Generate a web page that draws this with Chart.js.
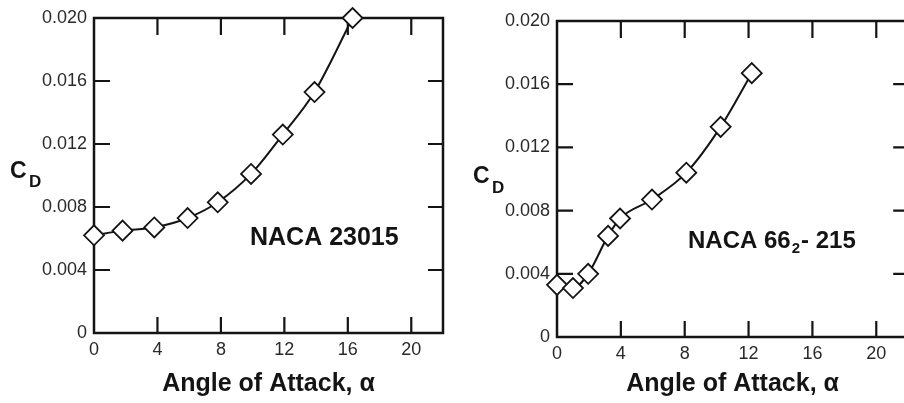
<!DOCTYPE html>
<html><head><meta charset="utf-8">
<script src="https://cdn.jsdelivr.net/npm/chart.js@4.4.0/dist/chart.umd.min.js"></script>
<style>
html,body{margin:0;padding:0;background:#fff;overflow:hidden;width:904px;height:403px}
#c1{position:absolute;left:0;top:0}
#c2{position:absolute;left:460px;top:0}
</style></head><body>
<canvas id="c1" width="460" height="403"></canvas>
<canvas id="c2" width="460" height="403"></canvas>
<script>
// ---- data ----
const xTickValues = [0, 4, 8, 12, 16, 20];
const xTickLabels = ['0', '4', '8', '12', '16', '20'];
const yTickValues = [0, 0.004, 0.008, 0.012, 0.016, 0.020];
const yTickLabels = ['0', '0.004', '0.008', '0.012', '0.016', '0.020'];

const alphaLeft = [0, 1.8, 3.8, 5.9, 7.8, 9.9, 11.9, 13.9, 16.3];
const cdLeft    = [0.0062, 0.0065, 0.0067, 0.0073, 0.0083, 0.0101, 0.0126, 0.0153, 0.0200];

const alphaRight = [0, 1.0, 1.95, 3.2, 3.95, 5.95, 8.1, 10.25, 12.2];
const cdRight    = [0.0033, 0.0031, 0.0040, 0.0064, 0.0075, 0.0087, 0.0104, 0.0133, 0.0167];

const xAxisTitle = 'Angle of Attack, \u03B1';
const nameLeft = 'NACA 23015';
const nameRightMain = 'NACA 66';
const nameRightSub = '2';
const nameRightTail = '- 215';

const INK = '#141414';
const LABEL = '#2a2a2a';

const framePlugin = {
  id: 'frame',
  beforeDatasetsDraw(chart, args, o) {
    const {ctx, chartArea: a, scales: {x, y}} = chart;
    ctx.save();
    ctx.strokeStyle = INK;
    ctx.lineWidth = 2.5;
    ctx.strokeRect(a.left, a.top, a.right - a.left, a.bottom - a.top);
    ctx.lineWidth = 2.2;
    ctx.beginPath();
    xTickValues.filter(v => v > 0).forEach(v => {
      const px = x.getPixelForValue(v);
      ctx.moveTo(px, a.bottom); ctx.lineTo(px, a.bottom - 16);
      ctx.moveTo(px, a.top); ctx.lineTo(px, a.top + 17);
    });
    yTickValues.filter(v => v > 0 && v < 0.02).forEach(v => {
      const py = y.getPixelForValue(v);
      ctx.moveTo(a.left, py); ctx.lineTo(a.left + 16, py);
      ctx.moveTo(a.right, py); ctx.lineTo(a.right - 15, py);
    });
    ctx.stroke();
    ctx.restore();
  }
};

const textPlugin = {
  id: 'texts',
  afterDraw(chart, args, o) {
    const ctx = chart.ctx;
    ctx.save();
    ctx.fillStyle = INK;
    ctx.textBaseline = 'alphabetic';
    ctx.textAlign = 'left';
    // C_D
    ctx.font = 'bold 23px "Liberation Sans", Arial, sans-serif';
    ctx.fillText('C', o.cx, o.cy);
    ctx.font = 'bold 17px "Liberation Sans", Arial, sans-serif';
    ctx.fillText('D', o.dx, o.dy);
    // name
    ctx.font = 'bold 25px "Liberation Sans", Arial, sans-serif';
    if (o.sub) {
      ctx.font = 'bold 24px "Liberation Sans", Arial, sans-serif';
      ctx.fillText(o.main, o.nx, o.ny);
      let w = ctx.measureText(o.main).width;
      ctx.font = 'bold 15px "Liberation Sans", Arial, sans-serif';
      ctx.fillText(o.sub, o.nx + w + 1, o.ny + 5);
      const w2 = ctx.measureText(o.sub).width;
      ctx.font = 'bold 24px "Liberation Sans", Arial, sans-serif';
      ctx.fillText(o.tail, o.nx + w + w2 + 2, o.ny);
    } else {
      ctx.fillText(o.main, o.nx, o.ny);
    }
    ctx.restore();
  }
};

function makeChart(id, xs, ys, yAxisWidth, padTop, padRight, xAxisHeight, textOpts) {
  const pts = xs.map((v, i) => ({x: v, y: ys[i]}));
  return new Chart(document.getElementById(id), {
    type: 'line',
    data: { datasets: [{
      data: pts,
      borderColor: INK,
      borderWidth: 2,
      pointStyle: 'rectRot',
      pointRadius: 10,
      pointBackgroundColor: '#ffffff',
      pointBorderColor: INK,
      pointBorderWidth: 1.8,
      cubicInterpolationMode: 'monotone',
      clip: false
    }]},
    options: {
      responsive: false,
      animation: false,
      events: [],
      layout: { padding: { top: padTop, right: padRight, left: 0, bottom: 0 } },
      plugins: { legend: { display: false }, tooltip: { enabled: false }, texts: textOpts },
      scales: {
        x: {
          type: 'linear', min: 0, max: 22,
          grid: { display: false, drawTicks: false },
          border: { display: false },
          afterBuildTicks: s => { s.ticks = xTickValues.map(v => ({value: v})); },
          afterFit: s => { s.height = xAxisHeight; },
          ticks: {
            padding: 6, color: LABEL,
            font: { size: 18, family: '"Liberation Sans", Arial, sans-serif' },
            callback: (v) => xTickLabels[xTickValues.indexOf(v)]
          },
          title: {
            display: true, text: xAxisTitle, color: INK,
            font: { size: 25, weight: 'bold', family: '"Liberation Sans", Arial, sans-serif' },
            padding: { top: 0, bottom: 4 }
          }
        },
        y: {
          type: 'linear', min: 0, max: 0.020,
          grid: { display: false, drawTicks: false },
          border: { display: false },
          afterBuildTicks: s => { s.ticks = yTickValues.map(v => ({value: v})); },
          afterFit: s => { s.width = yAxisWidth; },
          ticks: {
            padding: 7, color: LABEL,
            font: { size: 18, family: '"Liberation Sans", Arial, sans-serif' },
            callback: (v) => yTickLabels[yTickValues.findIndex(t => Math.abs(t - v) < 1e-9)]
          }
        }
      }
    },
    plugins: [framePlugin, textPlugin]
  });
}

makeChart('c1', alphaLeft, cdLeft, 94, 18, 17, 70,
  {cx: 10, cy: 178, dx: 29, dy: 187, main: nameLeft, nx: 250, ny: 245});
makeChart('c2', alphaRight, cdRight, 97, 21, 10, 66,
  {cx: 13, cy: 183, dx: 32, dy: 193, main: nameRightMain, sub: nameRightSub, tail: nameRightTail, nx: 228, ny: 248});
</script>
</body></html>
